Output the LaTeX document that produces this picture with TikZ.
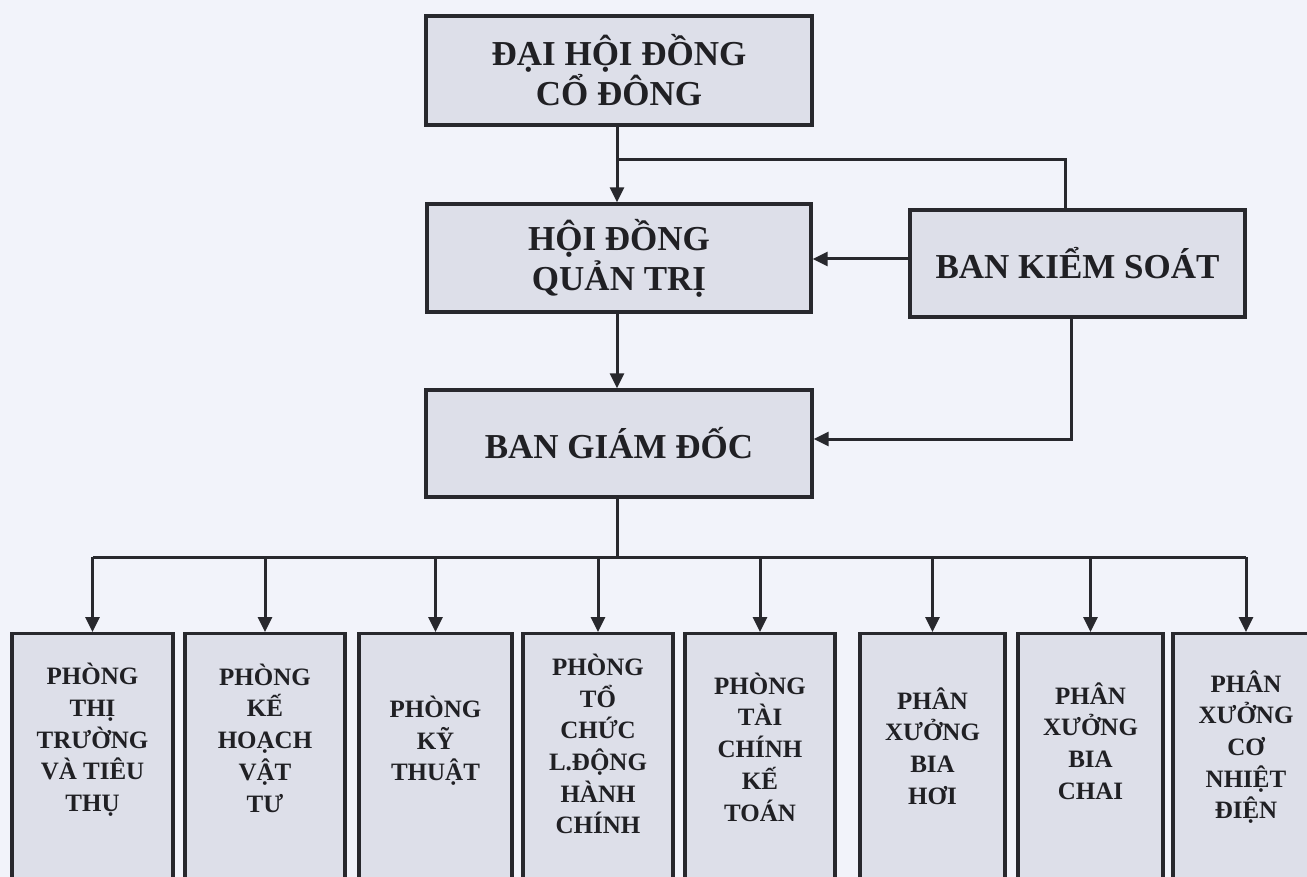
\documentclass[tikz,border=0pt]{standalone}
\usepackage{fontspec}
\setmainfont{Liberation Serif}
\usetikzlibrary{arrows.meta}
\definecolor{bgcol}{RGB}{242,243,250}
\definecolor{boxfill}{RGB}{221,223,233}
\definecolor{linecol}{RGB}{40,40,45}
\tikzset{
  topbox/.style={draw=linecol, fill=boxfill, line width=3.4pt, inner sep=0pt,
    align=center, text=linecol!80!black,
    font=\fontsize{35}{40}\selectfont\bfseries},
  deptbox/.style={draw=linecol, fill=boxfill, line width=3.4pt, inner sep=0pt,
    anchor=north},
  depttext/.style={align=center, inner sep=0pt, text=linecol!80!black,
    font=\fontsize{25}{31.7}\selectfont\bfseries},
  conn/.style={draw=linecol, line width=3pt},
  arr/.style={conn, -{Triangle[width=14pt,length=15pt]}}
}
\begin{document}
\begin{tikzpicture}[x=1pt,y=-1pt]
\useasboundingbox (0,0) rectangle (1307,877);
\fill[bgcol] (0,0) rectangle (1307,877);
\clip (0,0) rectangle (1307,877);

% top boxes
\node[topbox, minimum width=386pt, minimum height=109pt] (dh) at (619,70.5) {ĐẠI HỘI ĐỒNG\\CỔ ĐÔNG};
\node[topbox, minimum width=384pt, minimum height=108pt] (hd) at (619,258) {HỘI ĐỒNG\\QUẢN TRỊ};
\node[topbox, minimum width=335pt, minimum height=107pt] (bks) at (1077.5,263.5) {BAN KIỂM SOÁT};
\node[topbox, minimum width=386pt, minimum height=107pt] (bgd) at (619,443.5) {BAN GIÁM ĐỐC};

% coordinates for routing
\coordinate (j1) at (617,160);
\coordinate (j2) at (1065,160);
\coordinate (j3) at (1071,439);
\coordinate (bus) at (617,557);

% connectors among top boxes
\draw[arr] (dh.south -| j1) -- (hd.north -| j1);
\draw[conn] (j1) -- (j2) -- (bks.north -| j2);
\draw[arr] (bks.west |- 0,259) -- (hd.east |- 0,259);
\draw[arr] (hd.south -| j1) -- (bgd.north -| j1);
\draw[arr] (bks.south -| j3) -- (j3) -- (bgd.east |- j3);

% department boxes
\node[deptbox, minimum width=161pt, minimum height=300pt] (b1) at (92.5,632) {};
\node[deptbox, minimum width=160pt, minimum height=300pt] (b2) at (265,632) {};
\node[deptbox, minimum width=153pt, minimum height=300pt] (b3) at (435.5,632) {};
\node[deptbox, minimum width=150pt, minimum height=300pt] (b4) at (598,632) {};
\node[deptbox, minimum width=150pt, minimum height=300pt] (b5) at (760,632) {};
\node[deptbox, minimum width=145pt, minimum height=300pt] (b6) at (932.5,632) {};
\node[deptbox, minimum width=145pt, minimum height=300pt] (b7) at (1090.5,632) {};
\node[deptbox, minimum width=146pt, minimum height=300pt] (b8) at (1246,632) {};

\node[depttext] (t1) at (92.5,740) {PHÒNG\\THỊ\\TRƯỜNG\\VÀ TIÊU\\THỤ};
\node[depttext] (t2) at (265,738) {PHÒNG\\KẾ\\HOẠCH\\VẬT\\TƯ};
\node[depttext] (t3) at (435.5,741) {PHÒNG\\KỸ\\THUẬT};
\node[depttext] (t4) at (598,744) {PHÒNG\\TỔ\\CHỨC\\L.ĐỘNG\\HÀNH\\CHÍNH};
\node[depttext] (t5) at (760,747) {PHÒNG\\TÀI\\CHÍNH\\KẾ\\TOÁN};
\node[depttext] (t6) at (932.5,746) {PHÂN\\XƯỞNG\\BIA\\HƠI};
\node[depttext] (t7) at (1090.5,741) {PHÂN\\XƯỞNG\\BIA\\CHAI};
\node[depttext] (t8) at (1246,747) {PHÂN\\XƯỞNG\\CƠ\\NHIỆT\\ĐIỆN};

% bus
\draw[conn] (bgd.south -| bus) -- (bus);
\draw[conn] (b1.north |- bus) -- (b8.north |- bus);
\foreach \b in {b1,b2,b3,b4,b5,b6,b7,b8}
  \draw[arr] (\b.north |- bus) -- (\b.north);
\end{tikzpicture}
\end{document}
